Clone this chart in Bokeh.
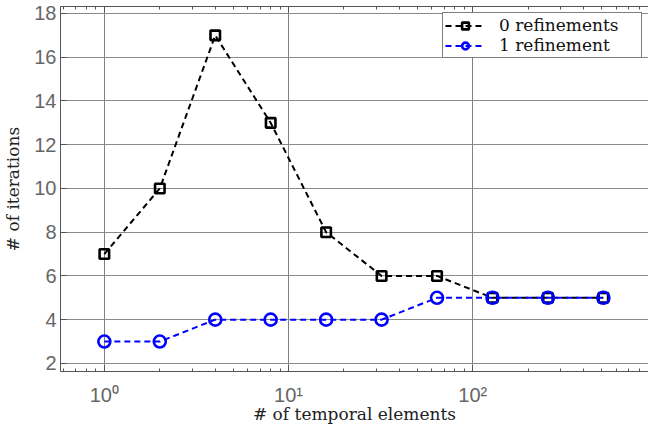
from bokeh.plotting import figure
from bokeh.models import (LogAxis, LogTicker, FixedTicker, CustomJSTickFormatter,
                          Range1d, Legend, LegendItem)
from bokeh.embed import file_html
from bokeh.resources import INLINE

# number of temporal elements (log scale)
elements = [1, 2, 4, 8, 16, 32, 64, 128, 256, 512]
# iteration counts for each refinement level
iters_ref0 = [7, 10, 17, 13, 8, 6, 6, 5, 5, 5]
iters_ref1 = [3, 3, 4, 4, 4, 4, 5, 5, 5, 5]
y_ticks = [2, 4, 6, 8, 10, 12, 14, 16, 18]

p = figure(width=648, height=426, x_axis_type="log",
           x_range=Range1d(0.578, 900), y_range=Range1d(1.63, 18.32),
           output_backend="svg", toolbar_location=None,
           min_border_left=60, min_border_right=0,
           min_border_top=6, min_border_bottom=55)
p.outline_line_color = None
p.background_fill_color = "white"
p.border_fill_color = "white"

sup = CustomJSTickFormatter(code="""
    const s = {'0':'\u2070','1':'\u00b9','2':'\u00b2','3':'\u00b3','-':'\u207b'};
    const e = Math.round(Math.log10(tick));
    return '10' + String(e).split('').map(c => s[c]).join('');
""")

xa = p.xaxis[0]
xa.ticker = LogTicker(desired_num_ticks=4, num_minor_ticks=10)
xa.formatter = sup
ya = p.yaxis[0]
ya.ticker = FixedTicker(ticks=y_ticks)

for ax in (xa, ya):
    ax.axis_line_color = "#555555"
    ax.axis_line_width = 1
    ax.major_tick_line_color = "#555555"
    ax.major_tick_in = 6
    ax.major_tick_out = 0
    ax.minor_tick_line_color = "#555555"
    ax.minor_tick_in = 3
    ax.minor_tick_out = 0
    ax.major_label_text_font = "Liberation Sans"
    ax.major_label_text_font_size = "20px"
    ax.major_label_text_color = "#666666"
    ax.axis_label_text_font = "DejaVu Serif"
    ax.axis_label_text_font_size = "17px"
    ax.axis_label_text_font_style = "normal"
    ax.axis_label_text_color = "#222222"
ya.minor_tick_line_color = None
xa.major_label_standoff = 12
xa.axis_label_standoff = -5
ya.major_label_standoff = 4
ya.axis_label_standoff = 8
xa.axis_label = "# of temporal elements"
ya.axis_label = "# of iterations"

# top edge of the box, with inward ticks and no labels
top = LogAxis(ticker=LogTicker(desired_num_ticks=4, num_minor_ticks=10),
              formatter=CustomJSTickFormatter(code="return ' ';"),
              axis_line_color="#555555", major_tick_line_color="#555555",
              minor_tick_line_color="#555555", major_tick_in=6, major_tick_out=0,
              minor_tick_in=3, minor_tick_out=0, major_label_text_font_size="1px",
              major_label_text_color=None, major_label_standoff=0)
p.add_layout(top, "above")

p.xgrid.ticker = xa.ticker
p.ygrid.ticker = ya.ticker
p.xgrid.grid_line_color = "#808080"
p.ygrid.grid_line_color = "#8a8a8a"
p.xgrid.grid_line_width = 1
p.ygrid.grid_line_width = 1

l0 = p.line(elements, iters_ref0, line_color="black", line_width=2, line_dash="6 4")
m0 = p.scatter(elements, iters_ref0, marker="square", size=9.5, line_color="black",
               line_width=2.6, fill_color=None)
l1 = p.line(elements, iters_ref1, line_color="#0000ff", line_width=2, line_dash="6 4")
m1 = p.scatter(elements, iters_ref1, marker="circle", size=12, line_color="#0000ff",
               line_width=2.6, fill_color=None)

legend = Legend(items=[LegendItem(label="0 refinements", renderers=[l0, m0]),
                       LegendItem(label="1 refinement", renderers=[l1, m1])],
                location="top_right", margin=6, padding=2, spacing=0,
                glyph_width=40, glyph_height=17, label_height=17,
                label_standoff=14, label_width=140,
                label_text_font="DejaVu Serif", label_text_font_size="17px",
                label_text_color="#111111",
                border_line_color="black", border_line_width=1,
                background_fill_color="white", background_fill_alpha=1)
p.add_layout(legend)

open("out.html", "w").write(file_html(p, INLINE))
